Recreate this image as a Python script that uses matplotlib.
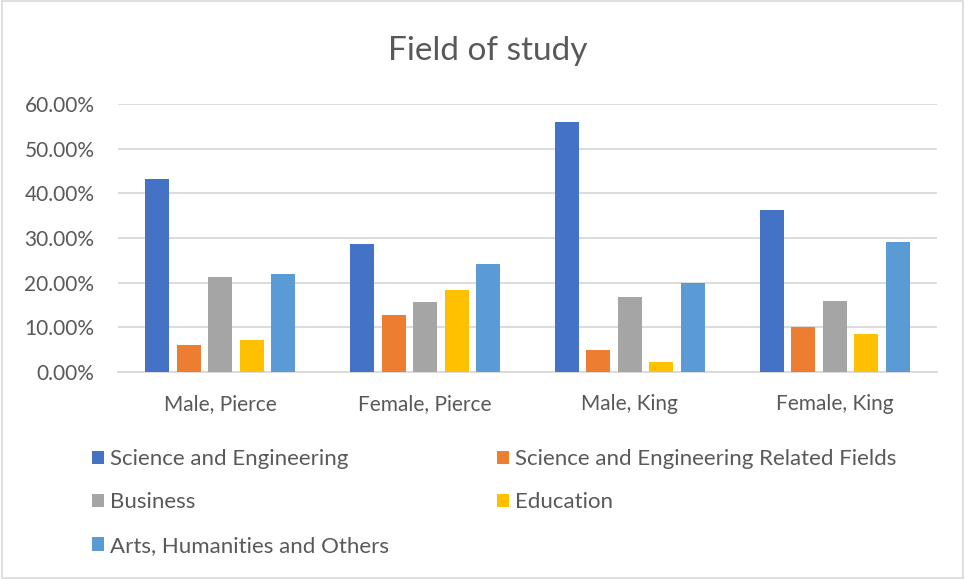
import numpy as np
import matplotlib.pyplot as plt
from matplotlib.patches import Rectangle
from matplotlib.ticker import FuncFormatter

categories = ['Male, Pierce', 'Female, Pierce', 'Male, King', 'Female, King']
series_names = ['Science and Engineering', 'Science and Engineering Related Fields',
                'Business', 'Education', 'Arts, Humanities and Others']
sci_eng = [0.432, 0.286, 0.559, 0.362]
sci_eng_related = [0.060, 0.128, 0.049, 0.101]
business = [0.213, 0.157, 0.167, 0.158]
education = [0.071, 0.184, 0.022, 0.084]
arts = [0.219, 0.241, 0.200, 0.291]
colors = ['#4472C4', '#ED7D31', '#A5A5A5', '#FFC000', '#5B9BD5']

plt.rcParams['font.family'] = ['Lato', 'DejaVu Sans']
text_col = '#595959'

fig = plt.figure(figsize=(9.65, 5.79), dpi=100)
ax = fig.add_axes([118 / 965, 1 - 372 / 579, 819 / 965, 268 / 579])

x = np.arange(len(categories))
slot = 31.5 / 205
width = 24 / 205
handles = []
for i, (vals, c) in enumerate(zip([sci_eng, sci_eng_related, business, education, arts], colors)):
    b = ax.bar(x + (i - 2) * slot, vals, width, color=c, zorder=3)
    handles.append(b)

ax.set_xlim(-0.5, 3.5)
ax.set_ylim(0, 0.6)
ax.set_yticks(np.arange(0, 0.61, 0.1))
ax.yaxis.set_major_formatter(FuncFormatter(lambda v, p: f'{v * 100:.2f}%'))
ax.set_xticks(x)
ax.set_xticklabels(categories)
ax.grid(axis='y', color='#D9D9D9', linewidth=1.3, zorder=0)
for s in ['top', 'right', 'left']:
    ax.spines[s].set_visible(False)
ax.spines['bottom'].set_color('#D9D9D9')
ax.spines['bottom'].set_linewidth(1.3)
ax.tick_params(axis='both', length=0, labelsize=15, colors=text_col)
ax.tick_params(axis='x', pad=16)
ax.tick_params(axis='y', pad=17)

fig.text(488 / 965, 1 - 51 / 579, 'Field of study', ha='center', va='center',
         fontsize=24, color=text_col)

order = [0, 2, 4, 1, 3]
leg = fig.legend([handles[i] for i in order], [series_names[i] for i in order],
                 ncol=2, loc='upper left', bbox_to_anchor=(81 / 965, 1 - 438 / 579),
                 frameon=False, fontsize=16, labelcolor=text_col, borderpad=0,
                 handlelength=0.55, handleheight=0.55, handletextpad=0.27,
                 columnspacing=4.85, labelspacing=1.05)

fig.patches.append(Rectangle((0.002, 0.002), 0.996, 0.996, transform=fig.transFigure,
                             fill=False, edgecolor='#D9D9D9', linewidth=1.2))

fig.savefig('out.png', dpi=100)
